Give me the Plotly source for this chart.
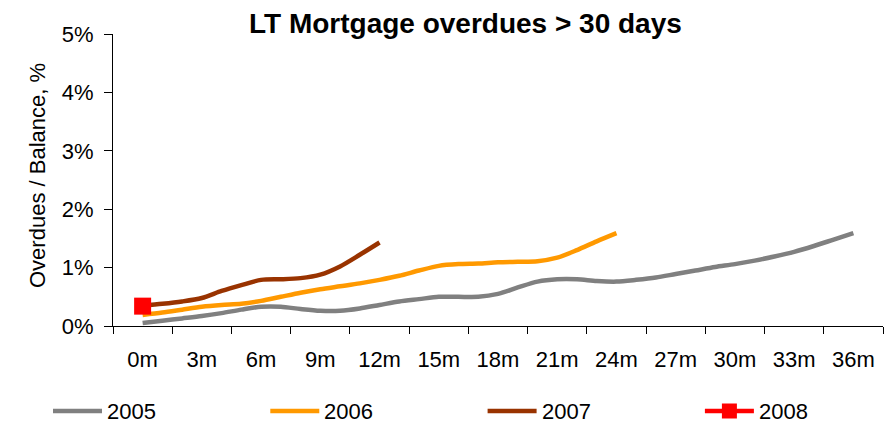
import plotly.graph_objects as go

# Months since origination
months_2005 = list(range(0, 37))
months_2006 = list(range(0, 25))
months_2007 = list(range(0, 13))
months_2008 = [0]

# Overdues > 30 days as % of balance, by vintage
vals_2005 = [0.05, 0.09, 0.13, 0.17, 0.22, 0.28, 0.33, 0.33, 0.29, 0.26,
             0.26, 0.30, 0.36, 0.42, 0.46, 0.50, 0.50, 0.50, 0.55, 0.66,
             0.76, 0.80, 0.80, 0.77, 0.76, 0.79, 0.83, 0.89, 0.95, 1.01,
             1.06, 1.12, 1.19, 1.27, 1.37, 1.48, 1.59]
vals_2006 = [0.19, 0.23, 0.28, 0.33, 0.36, 0.38, 0.43, 0.50, 0.57, 0.63,
             0.68, 0.73, 0.79, 0.86, 0.95, 1.03, 1.06, 1.07, 1.09, 1.10,
             1.11, 1.17, 1.30, 1.45, 1.59]
vals_2007 = [0.35, 0.38, 0.42, 0.48, 0.60, 0.70, 0.79, 0.80, 0.82, 0.88,
             1.02, 1.22, 1.43]
vals_2008 = [0.34]

series_names = ["2005", "2006", "2007", "2008"]
series_colors = ["#808080", "#FF9900", "#993300", "#FF0000"]

x_tick_vals = list(range(0, 37, 3))
x_tick_text = [f"{m}m" for m in x_tick_vals]
y_tick_vals = [0, 1, 2, 3, 4, 5]
y_tick_text = [f"{v}%" for v in y_tick_vals]

FONT = "Liberation Sans, Arial, sans-serif"
W, H = 895, 425
ML, MR, MT, MB = 113, 12, 34, 99
PW, PH = W - ML - MR, H - MT - MB


def px_x(px):
    # pixel column -> paper x
    return (px - ML) / PW


def px_y(py):
    # pixel row -> paper y
    return (H - MB - py) / PH


fig = go.Figure()
months = [months_2005, months_2006, months_2007]
vals = [vals_2005, vals_2006, vals_2007]
for name, color, xs, ys in zip(series_names[:3], series_colors[:3], months, vals):
    fig.add_trace(go.Scatter(x=xs, y=ys, name=name, mode="lines",
                             line=dict(color=color, width=4.5, shape="spline", smoothing=0.8)))
fig.add_trace(go.Scatter(x=months_2008, y=vals_2008, name="2008", mode="lines+markers",
                         line=dict(color=series_colors[3], width=4.5),
                         marker=dict(symbol="square", size=17, color=series_colors[3])))

# Legend row drawn along the bottom
shapes, annotations = [], []
legend_y = 411
for i, (name, color) in enumerate(zip(series_names, series_colors)):
    x0 = 53 + i * 217.3
    shapes.append(dict(type="line", xref="paper", yref="paper",
                       x0=px_x(x0), x1=px_x(x0 + 49), y0=px_y(legend_y), y1=px_y(legend_y),
                       line=dict(color=color, width=4.5)))
    if name == "2008":
        shapes.append(dict(type="rect", xref="paper", yref="paper",
                           x0=px_x(x0 + 17), x1=px_x(x0 + 32),
                           y0=px_y(legend_y + 7.5), y1=px_y(legend_y - 7.5),
                           fillcolor=color, line=dict(width=0)))
    annotations.append(dict(text=name, xref="paper", yref="paper",
                            x=px_x(x0 + 52), y=px_y(legend_y), xanchor="left",
                            yanchor="middle", showarrow=False,
                            font=dict(size=22, family=FONT, color="black")))

annotations.append(dict(text="Overdues / Balance, %", textangle=-90,
                        xref="paper", yref="paper", x=px_x(38), y=px_y(176),
                        xanchor="center", yanchor="middle", showarrow=False,
                        font=dict(size=22, family=FONT, color="black")))

fig.update_layout(
    width=W, height=H,
    margin=dict(l=ML, r=MR, t=MT, b=MB),
    paper_bgcolor="white", plot_bgcolor="white",
    font=dict(family=FONT, size=22, color="black"),
    title=dict(text="<b>LT Mortgage overdues &gt; 30 days</b>",
               x=0.52, xanchor="center", xref="container",
               y=0.946, yanchor="middle", yref="container",
               font=dict(size=28, family=FONT, color="black")),
    showlegend=False,
    xaxis=dict(range=[-1.5, 37.5], tickmode="array", tickvals=x_tick_vals,
               ticktext=x_tick_text, ticks="", showgrid=False, zeroline=False,
               showline=True, linecolor="black", linewidth=1,
               minor=dict(tickmode="array",
                          tickvals=[v - 1.5 for v in x_tick_vals] + [37.5],
                          ticks="outside", ticklen=7, tickcolor="black", tickwidth=1,
                          showgrid=False),
               ticklabelstandoff=14, fixedrange=True),
    yaxis=dict(range=[0, 5], tickmode="array", tickvals=y_tick_vals,
               ticktext=y_tick_text, ticks="outside", ticklen=8, tickcolor="black",
               tickwidth=1, ticklabelstandoff=6, showgrid=False, zeroline=False,
               showline=True, linecolor="black", linewidth=1, fixedrange=True),
    shapes=shapes,
    annotations=annotations,
)

fig.write_html("out.html")
